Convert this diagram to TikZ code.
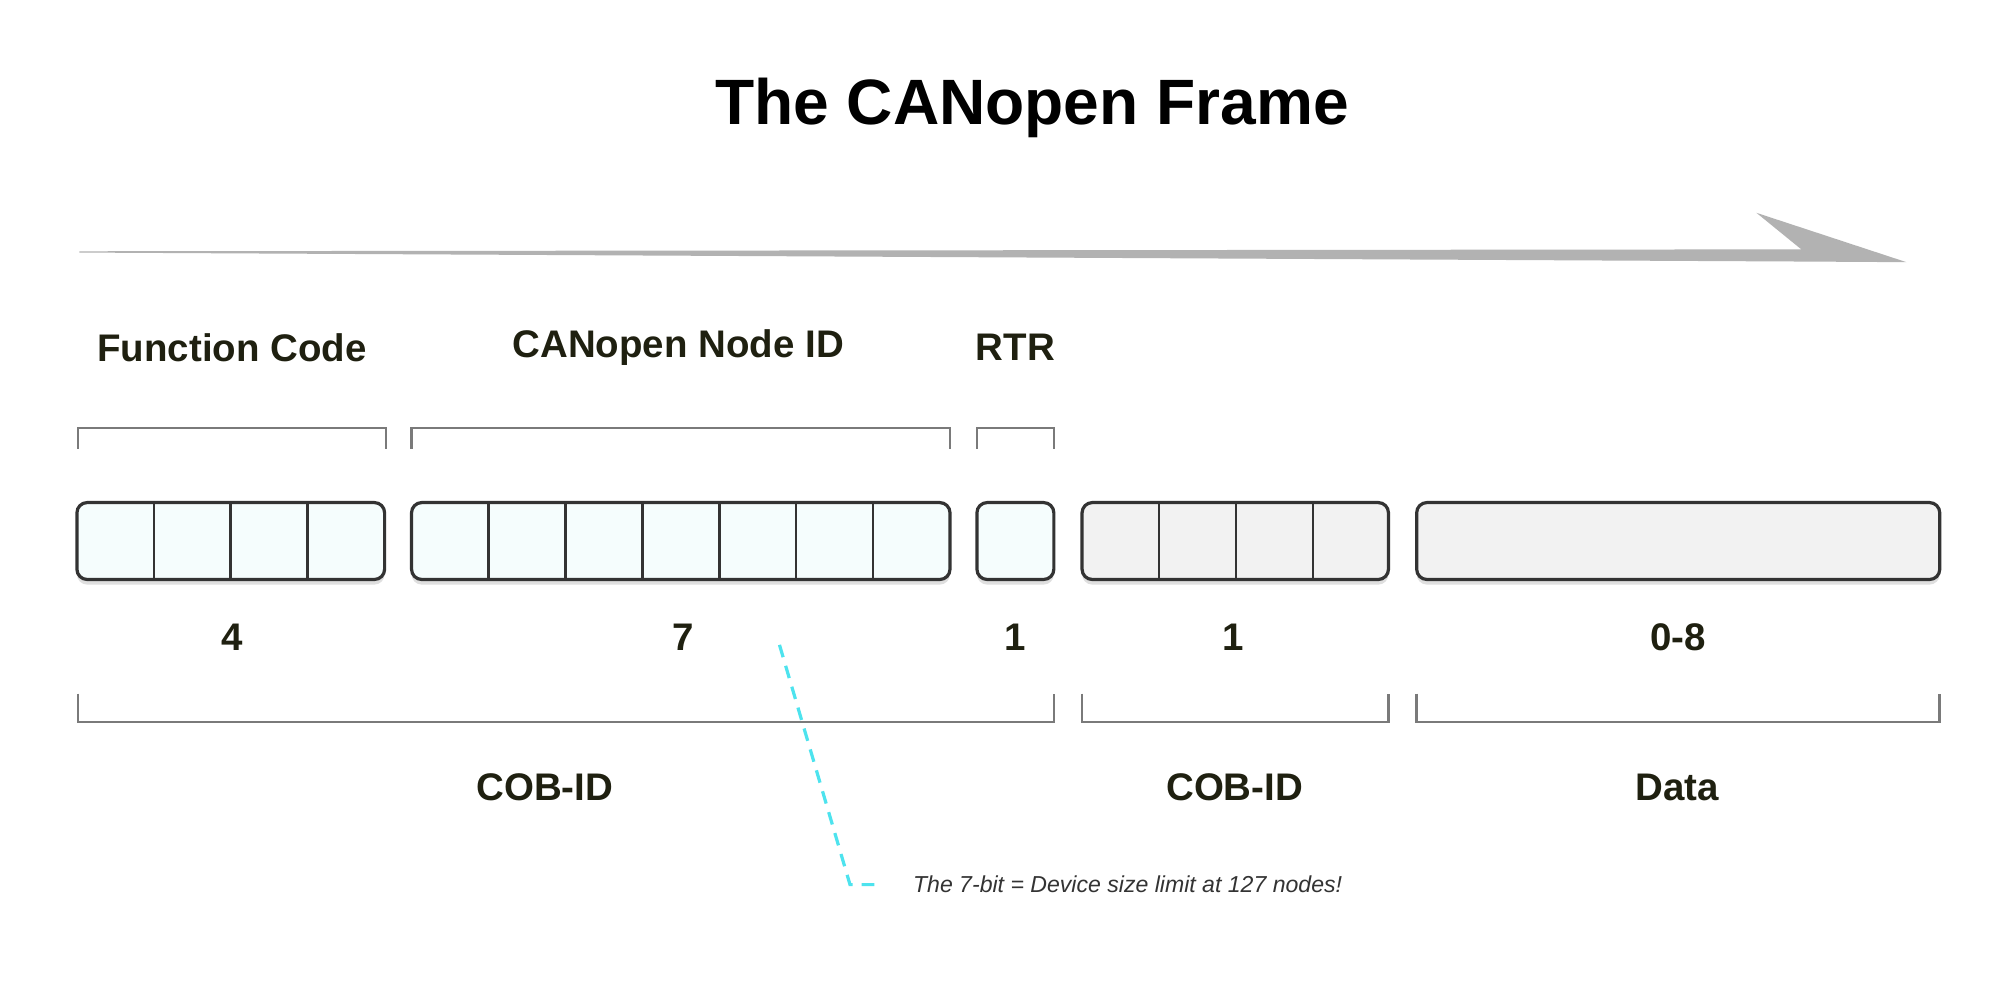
\documentclass[tikz,border=0pt]{standalone}
\usepackage{fontspec}
\setmainfont{Liberation Sans}
\usetikzlibrary{shadows}
\definecolor{txt}{HTML}{1F2010}
\definecolor{brk}{HTML}{7A7A7A}
\definecolor{cellA}{HTML}{F5FDFD}
\definecolor{cellB}{HTML}{F2F2F2}
\definecolor{cyanl}{HTML}{4DE3EE}
\tikzset{
  lbl/.style={font=\fontsize{30}{34}\selectfont\bfseries, text=txt},
  bracket/.style={draw=brk, line width=2pt},
  field/.style={draw=black!80, line width=2.5pt, rounded corners=8pt, drop shadow={opacity=0.25, shadow xshift=0pt, shadow yshift=-4pt}},
  cellline/.style={draw=black!80, line width=2pt},
}
\begin{document}
\begin{tikzpicture}[x=1pt,y=-1pt]
\useasboundingbox[fill=white] (0,0) rectangle (1560,780.8);
\node[font=\fontsize{50}{54}\selectfont\bfseries] (title) at (805,84) {The CANopen Frame};
% arrow
\fill[black!30] (62,196) -- (1405,194.5) -- (1370,166) -- (1487,204.5) -- (1405,204) -- (62,197) -- cycle;
% top labels
\node[lbl] (fc) at (181,271) {Function Code};
\node[lbl] (nid) at (529,271) {CANopen Node ID};
\node[lbl] (rtr) at (792,271) {RTR};
% top brackets
\draw[bracket] (61,350) -- (61,334) -- (301,334) -- (301,350);
\draw[bracket] (321,350) -- (321,334) -- (741,334) -- (741,350);
\draw[bracket] (762,350) -- (762,334) -- (822,334) -- (822,350);
% boxes
\path[field, fill=cellA] (60,392) rectangle (300,452);
\foreach \x in {120,180,240} \draw[cellline] (\x,392) -- (\x,452);
\path[field, fill=cellA] (321,392) rectangle (741,452);
\foreach \x in {381,441,501,561,621,681} \draw[cellline] (\x,392) -- (\x,452);
\path[field, fill=cellA] (762,392) rectangle (822,452);
\path[field, fill=cellB] (844,392) rectangle (1083,452);
\foreach \x in {904,964,1024} \draw[cellline] (\x,392) -- (\x,452);
\path[field, fill=cellB] (1105,392) rectangle (1513,452);
% numbers
\node[lbl] (n4) at (181,497) {4};
\node[lbl] (n7) at (533,497) {7};
\node[lbl] (n1a) at (792,497) {1};
\node[lbl] (n1b) at (962,497) {1};
\node[lbl] (n08) at (1309,497) {0-8};
% bottom brackets
\draw[bracket] (61,541) -- (61,563) -- (822,563) -- (822,541);
\draw[bracket] (844,541) -- (844,563) -- (1083,563) -- (1083,541);
\draw[bracket] (1105,541) -- (1105,563) -- (1513,563) -- (1513,541);
\node[lbl] (cob1) at (425,614) {COB-ID};
\node[lbl] (cob2) at (963,614) {COB-ID};
\node[lbl] (data) at (1308,614) {Data};
% annotation
\node[anchor=west, font=\fontsize{18}{20}\selectfont\itshape, text=black!80, inner sep=0pt] (note) at (712,690) {The 7-bit = Device size limit at 127 nodes!};
\coordinate (ds) at (608,503);
\coordinate (dk) at (663,690);
\draw[cyanl, line width=2.5pt, dash pattern=on 10pt off 7pt] (ds) -- (dk) -- ([xshift=-24pt]note.west);
\end{tikzpicture}
\end{document}
